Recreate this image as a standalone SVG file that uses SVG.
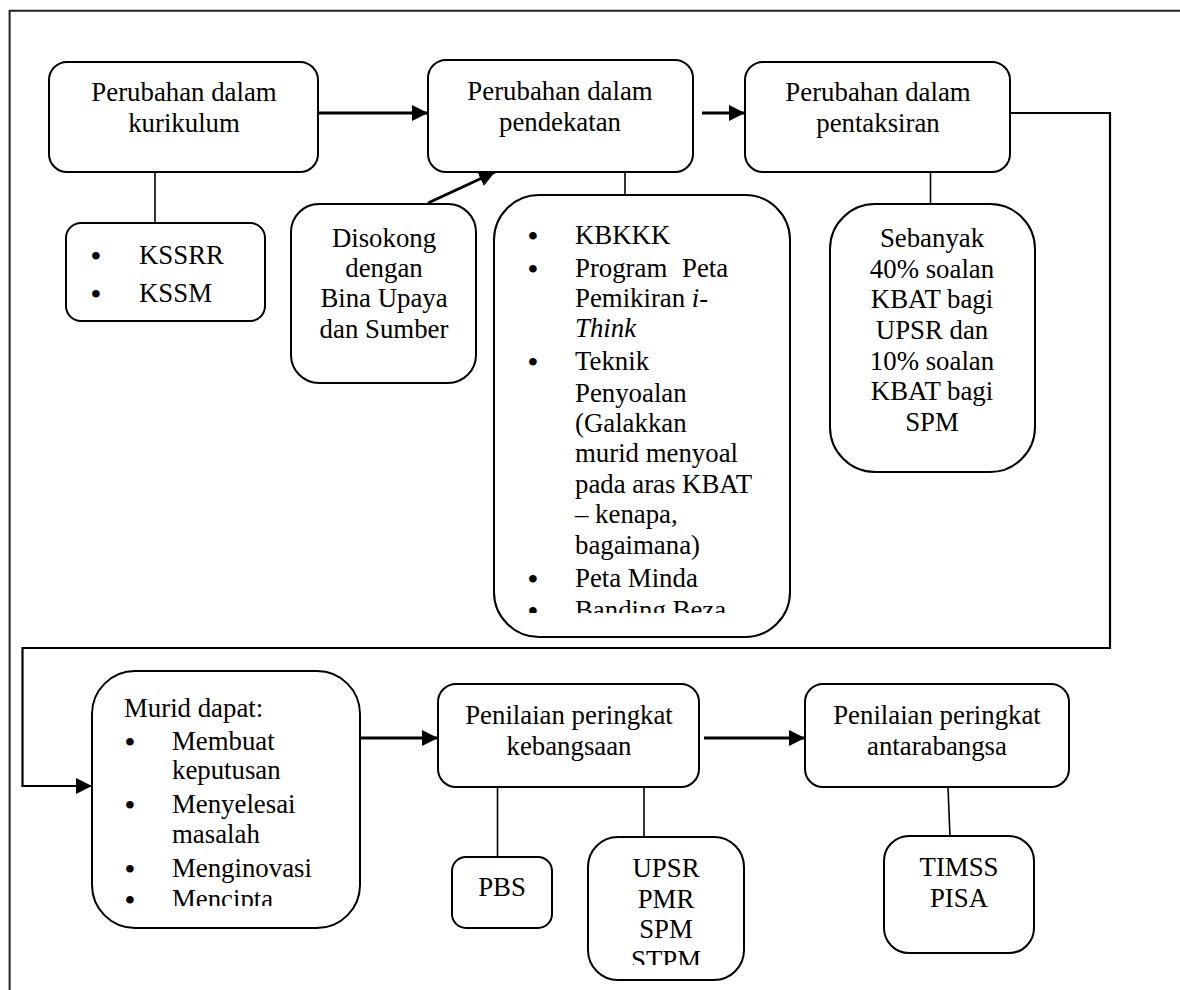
<svg xmlns="http://www.w3.org/2000/svg" width="1180" height="990" viewBox="0 0 1180 990">
<style>
.box{fill:#fff;stroke:#000;stroke-width:2}
.t{font-family:"Liberation Serif","Times New Roman",serif;font-size:26.8px;fill:#000}
.c{text-anchor:middle}
.b{font-family:"Liberation Serif","Times New Roman",serif;font-size:28px;font-weight:bold;fill:#000;text-anchor:middle}
.arr{fill:none;stroke:#000;stroke-width:3}
.ln{fill:none;stroke:#000;stroke-width:1.6}
.frame{fill:none;stroke:#222;stroke-width:2}
</style>
<defs>
<marker id="ah" markerUnits="userSpaceOnUse" markerWidth="16" markerHeight="16" viewBox="0 0 16 16" refX="16" refY="8" orient="auto">
<path d="M0,0 L16,8 L0,16 Z" fill="#000"/>
</marker>
<clipPath id="clipK"><rect x="494" y="195" width="296" height="418"/></clipPath>
<clipPath id="clipM"><rect x="92" y="671" width="268" height="235"/></clipPath>
<clipPath id="clipU"><rect x="588" y="837" width="156" height="128"/></clipPath>
</defs>
<path class="frame" d="M9.6,990 V10.7 H1180"/>
<g id="connectors">
<line class="arr" x1="318" y1="113" x2="428" y2="113" marker-end="url(#ah)"/>
<line class="arr" x1="702" y1="113" x2="745" y2="113" marker-end="url(#ah)"/>
<line class="arr" x1="428" y1="203" x2="495" y2="172" marker-end="url(#ah)"/>
<line class="ln" x1="155" y1="172" x2="155" y2="223"/>
<line class="ln" x1="625" y1="172" x2="625" y2="195"/>
<line class="ln" x1="930.5" y1="148" x2="930.5" y2="204"/>
<path class="ln" style="stroke-width:2.2" d="M1010,113 H1110 V648 H22.5 V786 H92" marker-end="url(#ah)"/>
<line class="arr" x1="360" y1="738" x2="438" y2="738" marker-end="url(#ah)"/>
<line class="arr" x1="704" y1="738" x2="805" y2="738" marker-end="url(#ah)"/>
<line class="ln" x1="497.5" y1="787" x2="497.5" y2="857"/>
<line class="ln" x1="644" y1="787" x2="644" y2="837"/>
<line class="ln" x1="948" y1="787" x2="950" y2="837"/>
</g>
<g id="kurikulum">
<rect class="box" x="49" y="62" width="269" height="110" rx="18"/>
<text class="t c" x="184" y="101">Perubahan dalam</text>
<text class="t c" x="184" y="132">kurikulum</text>
</g>
<g id="kssrr">
<rect class="box" x="66" y="223" width="199" height="98" rx="15"/>
<text class="b" x="96" y="265">•</text>
<text class="t" x="139" y="264">KSSRR</text>
<text class="b" x="96" y="303">•</text>
<text class="t" x="139" y="302">KSSM</text>
</g>
<g id="disokong">
<rect class="box" x="291" y="204" width="185" height="179" rx="28"/>
<text class="t c" x="384" y="247">Disokong</text>
<text class="t c" x="384" y="277">dengan</text>
<text class="t c" x="384" y="307">Bina Upaya</text>
<text class="t c" x="384" y="338">dan Sumber</text>
</g>
<g id="pendekatan">
<rect class="box" x="428" y="60" width="265" height="112" rx="18"/>
<text class="t c" x="560" y="100">Perubahan dalam</text>
<text class="t c" x="560" y="131">pendekatan</text>
</g>
<g id="kbkkk">
<rect class="box" x="494" y="195" width="296" height="442" rx="45"/>
<g clip-path="url(#clipK)">
<text class="b" x="533" y="245">•</text>
<text class="t" x="575" y="244">KBKKK</text>
<text class="b" x="533" y="278">•</text>
<text class="t" x="575" y="277" word-spacing="8">Program Peta</text>
<text class="t" x="575" y="307">Pemikiran <tspan font-style="italic">i-</tspan></text>
<text class="t" x="575" y="337" font-style="italic">Think</text>
<text class="b" x="533" y="371">•</text>
<text class="t" x="575" y="370">Teknik</text>
<text class="t" x="575" y="402">Penyoalan</text>
<text class="t" x="575" y="432">(Galakkan</text>
<text class="t" x="575" y="462">murid menyoal</text>
<text class="t" x="575" y="493">pada aras KBAT</text>
<text class="t" x="575" y="523">– kenapa,</text>
<text class="t" x="575" y="554">bagaimana)</text>
<text class="b" x="533" y="588">•</text>
<text class="t" x="575" y="587">Peta Minda</text>
<text class="b" x="533" y="620">•</text>
<text class="t" x="575" y="619">Banding Beza</text>
</g>
</g>
<g id="pentaksiran">
<rect class="box" x="745" y="62" width="265" height="110" rx="18"/>
<text class="t c" x="878" y="101">Perubahan dalam</text>
<text class="t c" x="878" y="132">pentaksiran</text>
</g>
<g id="sebanyak">
<rect class="box" x="830" y="204" width="205" height="268" rx="45"/>
<text class="t c" x="932" y="247">Sebanyak</text>
<text class="t c" x="932" y="278">40% soalan</text>
<text class="t c" x="932" y="308">KBAT bagi</text>
<text class="t c" x="932" y="339">UPSR dan</text>
<text class="t c" x="932" y="370">10% soalan</text>
<text class="t c" x="932" y="400">KBAT bagi</text>
<text class="t c" x="932" y="431">SPM</text>
</g>
<g id="murid">
<rect class="box" x="92" y="671" width="268" height="257" rx="43"/>
<g clip-path="url(#clipM)">
<text class="t" x="124" y="717">Murid dapat:</text>
<text class="b" x="130" y="751">•</text>
<text class="t" x="172" y="750">Membuat</text>
<text class="t" x="172" y="779">keputusan</text>
<text class="b" x="130" y="814">•</text>
<text class="t" x="172" y="813">Menyelesai</text>
<text class="t" x="172" y="843">masalah</text>
<text class="b" x="130" y="878">•</text>
<text class="t" x="172" y="877">Menginovasi</text>
<text class="b" x="130" y="909">•</text>
<text class="t" x="172" y="908">Mencipta</text>
</g>
</g>
<g id="kebangsaan">
<rect class="box" x="438" y="684" width="261" height="103" rx="18"/>
<text class="t c" x="569" y="724">Penilaian peringkat</text>
<text class="t c" x="569" y="755">kebangsaan</text>
</g>
<g id="pbs">
<rect class="box" x="452" y="857" width="100" height="71" rx="14"/>
<text class="t c" x="502" y="896">PBS</text>
</g>
<g id="upsr">
<rect class="box" x="588" y="837" width="156" height="143" rx="30"/>
<g clip-path="url(#clipU)">
<text class="t c" x="666" y="877">UPSR</text>
<text class="t c" x="666" y="908">PMR</text>
<text class="t c" x="666" y="938">SPM</text>
<text class="t c" x="666" y="969">STPM</text>
</g>
</g>
<g id="antarabangsa">
<rect class="box" x="805" y="684" width="264" height="103" rx="18"/>
<text class="t c" x="937" y="724">Penilaian peringkat</text>
<text class="t c" x="937" y="755">antarabangsa</text>
</g>
<g id="timss">
<rect class="box" x="884" y="836" width="150" height="117" rx="25"/>
<text class="t c" x="959" y="876">TIMSS</text>
<text class="t c" x="959" y="907">PISA</text>
</g>
</svg>
